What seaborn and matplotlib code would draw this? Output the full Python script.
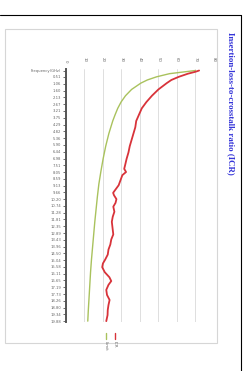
"""ICR chart (rotated Excel page) recreated with seaborn."""
import matplotlib.pyplot as plt
import pandas as pd
import seaborn as sns
from matplotlib.lines import Line2D
from matplotlib.patches import Rectangle

sns.set_theme(style="white")
plt.rcParams["font.family"] = ["DejaVu Sans"]

# frequency axis labels (category axis of the original sheet)
freq_labels = ["Frequency(GHz)", "0.51", "1.06", "1.60", "2.13", "2.67", "3.21", "3.75",
               "4.29", "4.82", "5.36", "5.90", "6.44", "6.98", "7.51", "8.05", "8.59",
               "9.13", "9.66", "10.20", "10.74", "11.28", "11.81", "12.35", "12.89",
               "13.43", "13.96", "14.50", "15.04", "15.58", "16.11", "16.65", "17.19",
               "17.73", "18.26", "18.80", "19.34", "19.88"]
value_ticks = [0, 10, 20, 30, 40, 50, 60, 70, 80]

# limit curve (green)
limit_freq = [0.0, 0.25, 0.5, 0.75, 1.0, 1.5, 2.0, 2.5, 3.0, 3.5, 4.0, 5.0, 6.0, 7.0, 8.0,
              9.0, 10.0, 11.0, 12.0, 13.0, 14.0, 15.0, 16.0, 17.0, 18.0, 19.0, 19.88]
limit_val = [70.0, 56.0, 49.0, 44.0, 40.5, 35.5, 32.2, 29.8, 28.0, 26.6, 25.3, 23.2, 21.5,
             20.1, 18.9, 17.8, 17.0, 16.3, 15.6, 15.0, 14.4, 13.8, 13.3, 12.9, 12.5, 12.1,
             11.8]

# measured ICR (red)
icr_freq = [0.0, 0.1, 0.25, 0.5, 0.75, 1.0, 1.5, 2.0, 2.5, 3.0, 3.5, 4.0, 4.5, 5.0, 5.5,
            6.0, 6.5, 7.0, 7.5, 7.8, 8.05, 8.3, 8.7, 9.1, 9.4, 9.7, 9.9, 10.2, 10.5, 10.8,
            11.2, 11.6, 12.0, 12.5, 13.0, 13.4, 13.8, 14.2, 14.6, 15.0, 15.3, 15.6, 16.0,
            16.4, 16.7, 17.0, 17.4, 17.8, 18.2, 18.6, 19.0, 19.4, 19.88]
icr_val = [72.0, 70.0, 66.0, 61.0, 57.0, 54.5, 50.0, 46.5, 43.5, 41.0, 39.5, 38.0, 37.5,
           36.5, 35.5, 34.5, 33.8, 32.8, 32.0, 31.5, 32.5, 30.5, 29.5, 28.5, 27.0, 25.5,
           26.0, 27.3, 26.8, 25.6, 26.2, 25.3, 24.8, 25.2, 25.6, 24.5, 24.0, 23.0, 22.6,
           21.2, 20.0, 19.6, 21.0, 23.5, 24.5, 23.0, 21.8, 22.2, 23.6, 23.0, 22.6, 22.5, 21.8]

df = pd.concat([
    pd.DataFrame({"freq": limit_freq, "icr": limit_val, "series": "Limit"}),
    pd.DataFrame({"freq": icr_freq, "icr": icr_val, "series": "ICR"}),
])
colors = {"Limit": "#a9c25d", "ICR": "#d8333a"}

fig = plt.figure(figsize=(2.47, 3.71), dpi=100)
ax = fig.add_axes([0.267, 0.132, 0.599, 0.682])

sns.lineplot(data=df, x="icr", y="freq", hue="series", palette=colors, orient="y",
             estimator=None, sort=False, legend=False, ax=ax)
for line, lw in zip(ax.lines, [1.0, 1.3]):
    line.set_linewidth(lw)

ax.set_xlim(0, 80)
ax.set_ylim(19.95, -0.12)
ax.xaxis.tick_top()
ax.set_xticks(value_ticks)
ax.set_xticklabels([str(v) for v in value_ticks], fontsize=2.8, color="#666666", rotation=-90)
tick_pos = [0.0] + [float(s) for s in freq_labels[1:]]
ax.set_yticks(tick_pos)
ax.set_yticklabels(freq_labels, fontsize=2.7, color="#666666")
ax.tick_params(axis="x", length=0, pad=5)
ax.tick_params(axis="y", length=2, width=0.6, color="#555555", pad=1.5, left=True)
ax.set_xlabel("")
ax.set_ylabel("")
ax.grid(axis="x", color="#d9d9d9", linewidth=0.6)
ax.grid(axis="y", visible=False)
for side in ["top", "right", "bottom"]:
    ax.spines[side].set_visible(False)
ax.spines["left"].set_color("#555555")
ax.spines["left"].set_linewidth(1.4)

# page decoration: black page edge and light chart-area frame
W, H = 247, 371
fig.add_artist(Line2D([0, 241 / W], [1 - 15 / H, 1 - 15 / H], color="black", lw=0.8))
fig.add_artist(Line2D([241 / W, 241 / W], [1 - 15 / H, 0], color="black", lw=0.8))
fig.add_artist(Rectangle((5 / W, 1 - 343 / H), 212 / W, 314 / H, fill=False,
                         edgecolor="#d6d6d6", lw=0.8))

fig.text(231 / W, 1 - 32 / H, "Insertion-loss-to-crosstalk ratio (ICR)", rotation=-90,
         ha="center", va="top", fontsize=6.4, fontweight="bold", color="#3535d8",
         family=["Liberation Serif"])

# rotated legend
for xpix, name in [(106, "Limit"), (115, "ICR")]:
    fig.add_artist(Line2D([xpix / W, xpix / W], [1 - 333 / H, 1 - 339 / H],
                          color=colors[name], lw=1.0))
    fig.text(xpix / W, 1 - 341 / H, name, rotation=-90, ha="center", va="top",
             fontsize=2.8, color="#666666")

fig.savefig("out.png", dpi=100)
